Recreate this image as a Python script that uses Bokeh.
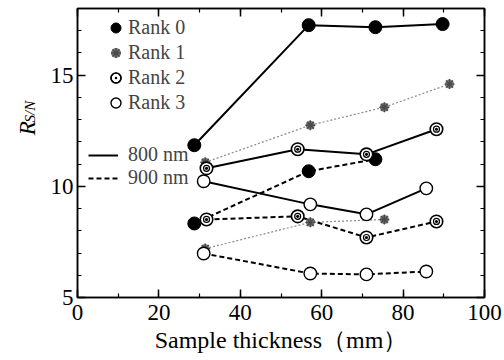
import math
from bokeh.plotting import figure
from bokeh.layouts import row
from bokeh.models import (LinearAxis, SingleIntervalTicker, Legend, LegendItem,
                          Range1d, CustomJSTickFormatter)
from bokeh.core.properties import value
from bokeh.embed import file_html
from bokeh.resources import INLINE

# ---- data ----
thick_r0 = [28.7, 56.8, 73.2, 89.7]
thick_r1 = [31.4, 57.2, 75.4, 91.4]
thick_r2 = [31.7, 54.1, 71.0, 88.2]
thick_r3 = [31.0, 57.2, 71.0, 85.7]

r0_800 = [11.85, 17.25, 17.16, 17.30]
r1_800 = [11.08, 12.75, 13.56, 14.60]
r2_800 = [10.81, 11.67, 11.44, 12.57]
r3_800 = [10.23, 9.19, 8.74, 9.91]

r0_900 = [8.33, 10.68, 11.22]
r1_900 = [7.20, 8.38, 8.51]
r2_900 = [8.51, 8.65, 7.70, 8.42]
r3_900 = [6.98, 6.08, 6.04, 6.17]

rank_labels = ["Rank 0", "Rank 1", "Rank 2", "Rank 3"]
wave_labels = ["800 nm", "900 nm"]
x_label = "Sample thickness（mm）"
y_label_main = "R"
y_label_sub = "S/N"

SERIF = "Liberation Serif"
LEFT_W = 40

# ---- narrow strip holding the rotated y-axis title R_{S/N} ----
lf = figure(width=LEFT_W, height=360, x_range=Range1d(0, LEFT_W), y_range=Range1d(0, 360),
            output_backend="svg", toolbar_location=None,
            x_axis_location=None, y_axis_location=None,
            min_border_left=0, min_border_right=0, min_border_top=0, min_border_bottom=0)
lf.grid.visible = False
lf.outline_line_color = None
lf.background_fill_color = "white"
lf.border_fill_color = "white"
lf.text(x=[27], y=[202], text=[y_label_main], angle=math.pi / 2,
        text_font=value(SERIF), text_font_style="italic", text_font_size="23px",
        text_align="left", text_baseline="alphabetic", text_color="black")
lf.text(x=[29.5], y=[218], text=[y_label_sub], angle=math.pi / 2,
        text_font=value(SERIF), text_font_style="italic", text_font_size="15px",
        text_align="left", text_baseline="alphabetic", text_color="black")

# ---- main plot ----
p = figure(width=504 - LEFT_W, height=360, x_range=Range1d(0, 100), y_range=Range1d(5, 18),
           output_backend="svg", toolbar_location=None,
           min_border_left=77 - LEFT_W, min_border_right=20, min_border_top=8,
           min_border_bottom=63)
p.xgrid.visible = False
p.ygrid.visible = False
p.outline_line_color = "black"
p.outline_line_width = 1.5
p.background_fill_color = "white"
p.border_fill_color = "white"

empty_fmt = CustomJSTickFormatter(code="return ''")


def style_axis(ax, ticker, labels=True, standoff=4):
    ax.ticker = ticker
    ax.axis_line_width = 1.5
    ax.axis_line_color = "black"
    ax.major_tick_in = 8
    ax.major_tick_out = 0
    ax.minor_tick_in = 4
    ax.minor_tick_out = 0
    ax.major_tick_line_width = 1.5
    ax.minor_tick_line_width = 1.2
    ax.major_tick_line_color = "black"
    ax.minor_tick_line_color = "black"
    if labels:
        ax.major_label_text_font = SERIF
        ax.major_label_text_font_size = "23px"
        ax.major_label_text_color = "black"
        ax.major_label_standoff = standoff
    else:
        ax.formatter = empty_fmt
        ax.major_label_text_font_size = "0px"
        ax.major_label_standoff = 0


xt = lambda: SingleIntervalTicker(interval=20, num_minor_ticks=2)
yt = lambda: SingleIntervalTicker(interval=5, num_minor_ticks=5)

style_axis(p.xaxis[0], xt(), standoff=7)
style_axis(p.yaxis[0], yt(), standoff=4)
p.xaxis[0].axis_label = x_label
p.xaxis[0].axis_label_text_font = SERIF
p.xaxis[0].axis_label_text_font_size = "24px"
p.xaxis[0].axis_label_text_font_style = "normal"
p.xaxis[0].axis_label_text_color = "black"
p.xaxis[0].axis_label_standoff = 4

top = LinearAxis()
style_axis(top, xt(), labels=False)
p.add_layout(top, "above")
right = LinearAxis()
style_axis(right, yt(), labels=False)
p.add_layout(right, "right")

SOLID = dict(line_color="black", line_width=2)
DASH = dict(line_color="black", line_width=2, line_dash="5 3")
DOT = dict(line_color="#8a8a8a", line_width=1.2, line_dash="2 2")

# lines
l0_800 = p.line(thick_r0, r0_800, **SOLID)
p.line(thick_r1, r1_800, **DOT)
p.line(thick_r2, r2_800, **SOLID)
p.line(thick_r3, r3_800, **SOLID)
l0_900 = p.line(thick_r0[:3], r0_900, **DASH)
p.line(thick_r1[:3], r1_900, **DOT)
p.line(thick_r2, r2_900, **DASH)
p.line(thick_r3, r3_900, **DASH)


def rank0(xs, ys):
    return [p.scatter(xs, ys, marker="circle", size=13, fill_color="black", line_color="black")]


def rank1(xs, ys):
    a = p.scatter(xs, ys, marker="circle", size=9, fill_color="#7a7a7a", line_color=None)
    b = p.scatter(xs, ys, marker="asterisk", size=10, line_color="#4a4a4a", line_width=1.4)
    return [a, b]


def rank2(xs, ys):
    a = p.scatter(xs, ys, marker="circle_dot", size=12.5, fill_color="white",
                  line_color="black", line_width=1.6)
    b = p.scatter(xs, ys, marker="circle", size=6, fill_color=None,
                  line_color="black", line_width=1.2)
    return [a, b]


def rank3(xs, ys):
    return [p.scatter(xs, ys, marker="circle", size=12.5, fill_color="white",
                      line_color="black", line_width=1.4)]


m0 = rank0(thick_r0, r0_800)
rank0(thick_r0[:3], r0_900)
m1 = rank1(thick_r1, r1_800)
rank1(thick_r1[:3], r1_900)
m2 = rank2(thick_r2, r2_800)
rank2(thick_r2, r2_900)
m3 = rank3(thick_r3, r3_800)
rank3(thick_r3, r3_900)

leg1 = Legend(items=[LegendItem(label=rank_labels[0], renderers=m0),
                     LegendItem(label=rank_labels[1], renderers=m1),
                     LegendItem(label=rank_labels[2], renderers=m2),
                     LegendItem(label=rank_labels[3], renderers=m3)],
              location=(26, 182), glyph_width=25, glyph_height=25, spacing=-5,
              padding=0, margin=0, label_standoff=0,
              label_text_font=SERIF, label_text_font_size="20px",
              border_line_alpha=0, background_fill_alpha=0)
leg2 = Legend(items=[LegendItem(label=wave_labels[0], renderers=[l0_800]),
                     LegendItem(label=wave_labels[1], renderers=[l0_900])],
              location=(11, 108), glyph_width=30, glyph_height=20, spacing=-3,
              padding=0, margin=0, label_standoff=10,
              label_text_font=SERIF, label_text_font_size="20px",
              border_line_alpha=0, background_fill_alpha=0)
p.add_layout(leg1)
p.add_layout(leg2)

layout = row(lf, p, spacing=0)
open("out.html", "w").write(file_html(layout, INLINE))
